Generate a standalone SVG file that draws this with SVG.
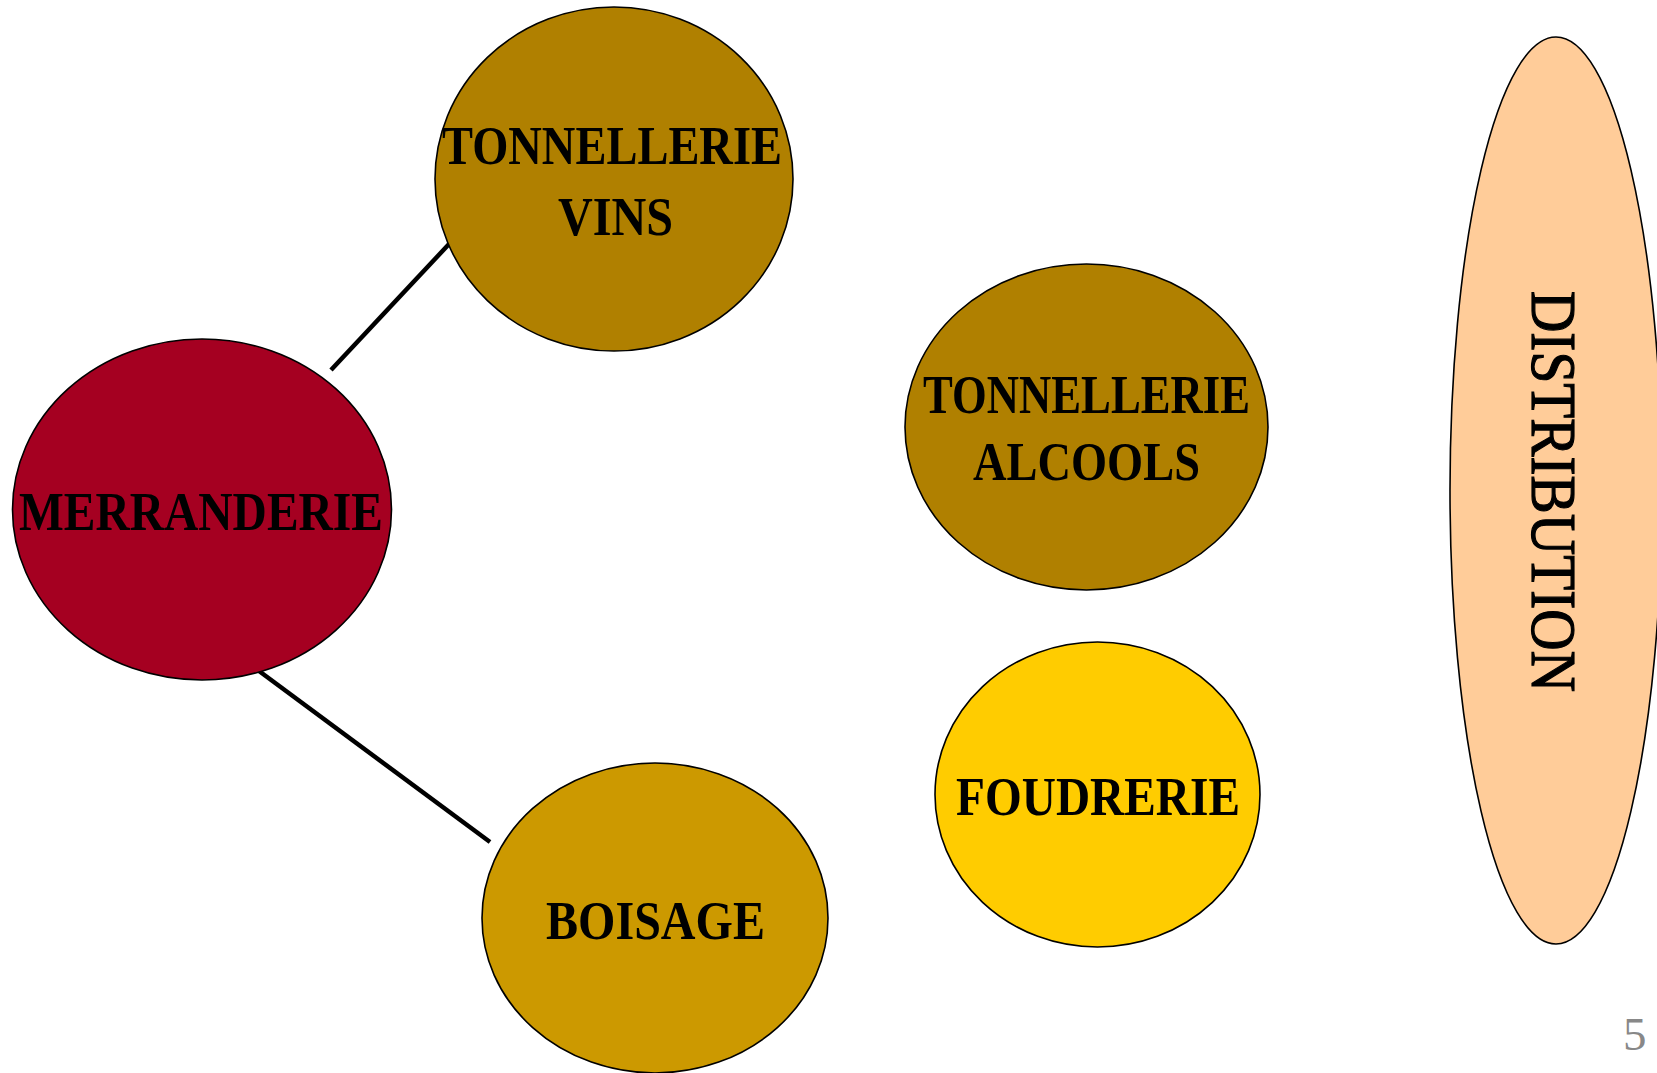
<svg xmlns="http://www.w3.org/2000/svg" width="1657" height="1073" viewBox="0 0 1657 1073">
<style>
.node{stroke:#000;stroke-width:1.6}
.lbl{font-family:"Liberation Serif","DejaVu Serif",serif;font-weight:bold;font-size:54px;fill:#000}
.conn{stroke:#000;stroke-width:4.5;fill:none}
</style>
<rect width="1657" height="1073" fill="#fff"/>
<g id="connectors">
<line class="conn" x1="331" y1="370" x2="450" y2="243"/>
<line class="conn" x1="259" y1="671" x2="490" y2="842"/>
</g>
<g id="merranderie">
<ellipse class="node" cx="202" cy="509.5" rx="189.5" ry="170.5" fill="#A50021"/>
<text class="lbl" x="19" y="530" textLength="364" lengthAdjust="spacingAndGlyphs">MERRANDERIE</text>
</g>
<g id="tonnellerie-vins">
<ellipse class="node" cx="614" cy="179" rx="179" ry="172" fill="#B08000"/>
<text class="lbl" x="442" y="164" textLength="340" lengthAdjust="spacingAndGlyphs">TONNELLERIE</text>
<text class="lbl" x="558" y="235" textLength="115" lengthAdjust="spacingAndGlyphs">VINS</text>
</g>
<g id="tonnellerie-alcools">
<ellipse class="node" cx="1086.5" cy="427" rx="181.5" ry="163" fill="#B08000"/>
<text class="lbl" x="923" y="413" textLength="327" lengthAdjust="spacingAndGlyphs">TONNELLERIE</text>
<text class="lbl" x="973" y="480" textLength="227" lengthAdjust="spacingAndGlyphs">ALCOOLS</text>
</g>
<g id="foudrerie">
<ellipse class="node" cx="1097.5" cy="794.5" rx="162.5" ry="152.5" fill="#FFCC00"/>
<text class="lbl" x="956" y="815" textLength="284" lengthAdjust="spacingAndGlyphs">FOUDRERIE</text>
</g>
<g id="boisage">
<ellipse class="node" cx="655" cy="918" rx="173" ry="155" fill="#CC9900"/>
<text class="lbl" x="546" y="939" textLength="219" lengthAdjust="spacingAndGlyphs">BOISAGE</text>
</g>
<g id="distribution">
<ellipse class="node" cx="1556" cy="490.5" rx="106" ry="453.5" fill="#FFCC99"/>
<text x="0" y="0" transform="translate(1532 291) rotate(90)" font-family="Liberation Serif, DejaVu Serif, serif" font-size="64" fill="#000" stroke="#000" stroke-width="1.2" textLength="401" lengthAdjust="spacingAndGlyphs">DISTRIBUTION</text>
</g>
<text x="1623" y="1050" font-family="Liberation Serif, DejaVu Serif, serif" font-size="47" fill="#888888">5</text>
</svg>
